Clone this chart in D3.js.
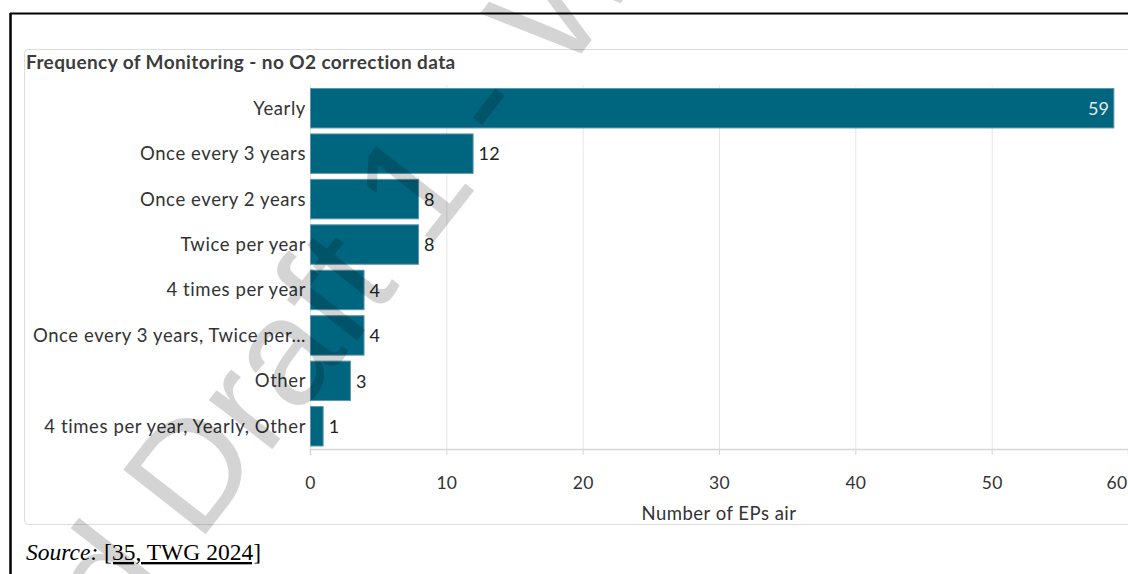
<!DOCTYPE html>
<html>
<head>
<meta charset="utf-8">
<script src="https://cdn.jsdelivr.net/npm/d3@7"></script>
<style>
  html, body { margin: 0; padding: 0; background: #fff; }
  svg { display: block; }
</style>
</head>
<body>
<svg id="chart" width="1128" height="574"></svg>
<script>
const categories = [
  "Yearly",
  "Once every 3 years",
  "Once every 2 years",
  "Twice per year",
  "4 times per year",
  "Once every 3 years, Twice per\u2026",
  "Other",
  "4 times per year, Yearly, Other"
];
const values = [59, 12, 8, 8, 4, 4, 3, 1];
const xTicks = [0, 10, 20, 30, 40, 50, 60];
const titleText = "Frequency of Monitoring - no O2 correction data";
const xAxisTitle = "Number of EPs air";

const svg = d3.select("#chart");
const W = 1128, H = 574;
const FONT = "Lato, 'Noto Sans', sans-serif";

// page frame lines
svg.append("line").attr("x1", 10).attr("x2", W).attr("y1", 13.5).attr("y2", 13.5)
  .attr("stroke", "#000").attr("stroke-width", 2);
svg.append("line").attr("x1", 10.5).attr("x2", 10.5).attr("y1", 13).attr("y2", H)
  .attr("stroke", "#000").attr("stroke-width", 2.5);

// panel
svg.append("rect").attr("x", 24.5).attr("y", 49.5).attr("width", 1120).attr("height", 475)
  .attr("rx", 4).attr("fill", "#fff").attr("stroke", "#dcdcdc").attr("stroke-width", 1);

// title
svg.append("text").attr("x", 26).attr("y", 69)
  .attr("font-family", FONT).attr("font-weight", 700).attr("letter-spacing", 0.4)
  .attr("font-size", 19).attr("fill", "#3c3c3c").text(titleText);

const x = d3.scaleLinear().domain([0, 60]).range([310, 1128]);
const y = d3.scaleBand().domain(categories).range([85.5, 449]).paddingInner(0.11).paddingOuter(0.055);

// gridlines
svg.append("g").selectAll("line").data(xTicks).join("line")
  .attr("x1", d => x(d) + 0.5).attr("x2", d => x(d) + 0.5)
  .attr("y1", 85).attr("y2", 449)
  .attr("stroke", "#e6e6e6").attr("stroke-width", 1);

// x axis
const xAxis = d3.axisBottom(x).tickValues(xTicks).tickSize(6).tickPadding(22);
const gx = svg.append("g").attr("transform", "translate(0,449)").call(xAxis);
gx.select(".domain").attr("stroke", "#d6d6d6").attr("stroke-width", 1.5);
gx.selectAll(".tick line").attr("stroke", "#d6d6d6");
gx.selectAll(".tick text").attr("font-family", FONT).attr("letter-spacing", 0.3)
  .attr("font-size", 17.5).attr("fill", "#333");
gx.selectAll(".tick").filter(d => d === 60).select("text")
  .attr("text-anchor", "end").attr("x", W - 1 - x(60));

svg.append("text").attr("x", (x(0) + x(60)) / 2).attr("y", 520).attr("text-anchor", "middle")
  .attr("font-family", FONT).attr("font-size", 18.5).attr("letter-spacing", 0.5).attr("fill", "#333")
  .text(xAxisTitle);

// bars
const data = categories.map((c, i) => ({ c, v: values[i] }));
svg.append("g").selectAll("rect").data(data).join("rect")
  .attr("x", x(0) + 0.5).attr("y", d => y(d.c) + 0.5)
  .attr("width", d => x(d.v) - x(0) - 1).attr("height", y.bandwidth() - 1)
  .attr("fill", "#00657f").attr("stroke", "#5a97aa").attr("stroke-width", 1);

// category labels
svg.append("g").selectAll("text").data(data).join("text")
  .attr("x", x(0) - 4).attr("y", d => y(d.c) + y.bandwidth() / 2).attr("dy", "0.35em")
  .attr("text-anchor", "end")
  .attr("font-family", FONT).attr("font-size", 18.5).attr("letter-spacing", 0.6).attr("fill", "#333")
  .text(d => d.c);

// value labels
svg.append("g").selectAll("text").data(data).join("text")
  .attr("x", d => d.v > 30 ? x(d.v) - 5 : x(d.v) + 5)
  .attr("y", d => y(d.c) + y.bandwidth() / 2).attr("dy", "0.38em")
  .attr("text-anchor", d => d.v > 30 ? "end" : "start")
  .attr("font-family", FONT).attr("font-size", 18).attr("letter-spacing", 0.3)
  .attr("fill", d => d.v > 30 ? "#e8e8e8" : "#222")
  .text(d => d.v);

// source
const src = svg.append("text").attr("x", 26).attr("y", 560)
  .attr("font-family", "'Liberation Serif', 'Times New Roman', serif").attr("font-size", 23.5).attr("fill", "#000");
src.append("tspan").attr("font-style", "italic").text("Source:");
src.append("tspan").text(" ");
src.append("tspan").attr("text-decoration", "underline").text("[35, TWG 2024]");

// watermark
svg.append("text")
  .attr("transform", "translate(120,644) rotate(-52)")
  .attr("font-family", "'Liberation Sans', Arial, sans-serif").attr("font-size", 152)
  .attr("fill", "#000").attr("fill-opacity", 0.17)
  .text("d Draft 1 - W");
</script>
</body>
</html>
